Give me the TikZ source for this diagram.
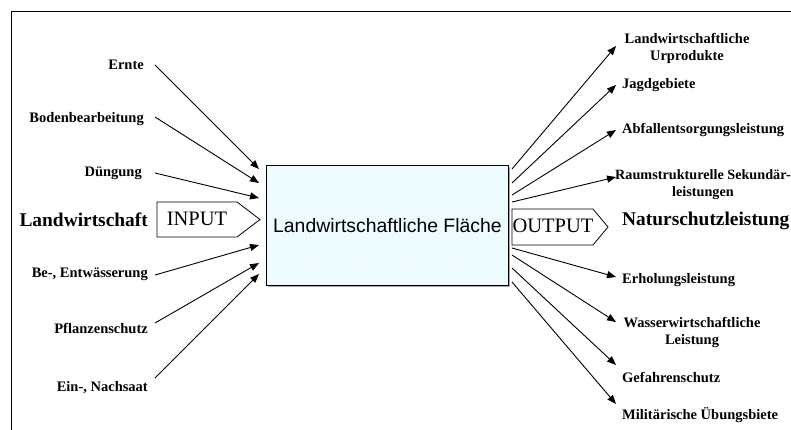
\documentclass[tikz,border=0pt]{standalone}
\usepackage{fontspec}
\setmainfont{Liberation Serif}
\newfontfamily\arialfont{Liberation Sans}
\usetikzlibrary{arrows.meta,patterns}
\begin{document}
\begin{tikzpicture}[x=1pt,y=-1pt,
  arr/.style={line width=0.9pt,-{Triangle[length=9pt,width=7pt]}},
  lab/.style={font=\fontsize{14.5}{17}\selectfont\bfseries,inner sep=0pt,align=center},
  big/.style={font=\fontsize{19.4}{22}\selectfont\bfseries,inner sep=0pt},
  io/.style={font=\fontsize{20.5}{22}\selectfont,inner sep=0pt},
  frame/.style={line width=0.9pt}]
\useasboundingbox (0,0) rectangle (791,429);
\clip (0,0) rectangle (791,429);
\draw[frame] (11,11) rectangle (830,470);

% central box
\fill[gray!70] (268,167) rectangle (510,287);
\node[draw,line width=0.9pt,preaction={fill=cyan!5},pattern=dots,pattern color=cyan!30,
  minimum width=242pt,minimum height=120pt,anchor=north west,
  font=\arialfont\fontsize{19.4}{22}\selectfont] (flaeche) at (266,165) {Landwirtschaftliche Fläche};

% INPUT / OUTPUT shapes
\draw[line width=0.8pt] (157,202) -- (237,202) -- (260,219.5) -- (237,237) -- (157,237) -- cycle;
\node[io] (input) at (197,219) {INPUT};
\draw[line width=0.8pt] (512,209) -- (593,209) -- (608,227) -- (593,245) -- (512,245) -- cycle;
\node[io] (output) at (553,226) {OUTPUT};

\node[big,anchor=east] (landw) at (148,220) {Landwirtschaft};
\node[big,anchor=west] (natur) at (622,221) {Naturschutzleistung};

% left labels
\node[lab,anchor=east] (ernte) at (144,65) {Ernte};
\node[lab,anchor=east] (boden) at (144,119) {Bodenbearbeitung};
\node[lab,anchor=east] (duen) at (142,173) {Düngung};
\node[lab,anchor=east] (bewae) at (148,274) {Be-, Entwässerung};
\node[lab,anchor=east] (pflanz) at (148,328) {Pflanzenschutz};
\node[lab,anchor=east] (einsaat) at (148,388) {Ein-, Nachsaat};

\coordinate (i1) at (259,169);
\coordinate (i2) at (259,183);
\coordinate (i3) at (259,198);
\coordinate (i4) at (259,245);
\coordinate (i5) at (259,263);
\coordinate (i6) at (259,274);
\draw[arr] (155,65) coordinate (s1) -- (i1);
\draw[arr] (155,117) coordinate (s2) -- (i2);
\draw[arr] (155,173) coordinate (s3) -- (i3);
\draw[arr] (155,275) coordinate (s4) -- (i4);
\draw[arr] (155,323) coordinate (s5) -- (i5);
\draw[arr] (155,378) coordinate (s6) -- (i6);

% right labels
\node[lab] (urprod) at (687,48.5) {Landwirtschaftliche\\Urprodukte};
\node[lab,anchor=west] (jagd) at (622,85) {Jagdgebiete};
\node[lab,anchor=west] (abfall) at (622,130) {Abfallentsorgungsleistung};
\node[lab,font=\fontsize{14.2}{17}\selectfont\bfseries] (raum) at (703,184.5) {Raumstrukturelle Sekundär-\\leistungen};
\node[lab,anchor=west] (erhol) at (622,280) {Erholungsleistung};
\node[lab] (wasser) at (692,332) {Wasserwirtschaftliche\\Leistung};
\node[lab,anchor=west] (gefahr) at (622,377) {Gefahrenschutz};
\node[lab,anchor=west] (milit) at (622,415) {Militärische Übungsbiete};

\coordinate (o1) at (616,46);
\coordinate (o2) at (616,85);
\coordinate (o3) at (616,130);
\coordinate (o4) at (616,177);
\coordinate (o5) at (616,277);
\coordinate (o6) at (616,322);
\coordinate (o7) at (616,365);
\coordinate (o8) at (616,404);
\draw[arr] (512,169) -- (o1);
\draw[arr] (512,183) -- (o2);
\draw[arr] (512,195) -- (o3);
\draw[arr] (512,202) -- (o4);
\draw[arr] (512,248) -- (o5);
\draw[arr] (512,255) -- (o6);
\draw[arr] (512,268) -- (o7);
\draw[arr] (512,282) -- (o8);
\end{tikzpicture}
\end{document}
